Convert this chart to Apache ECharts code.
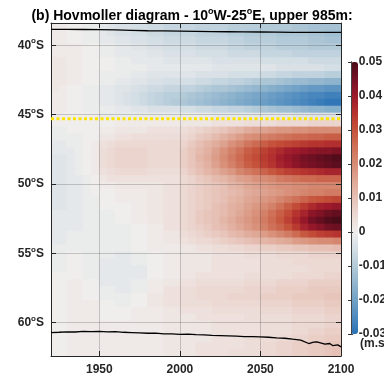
<!DOCTYPE html>
<html>
<head>
<meta charset="utf-8">
<script src="https://cdn.jsdelivr.net/npm/echarts@6/dist/echarts.min.js"></script>
<style>
  html, body { margin: 0; padding: 0; background: #fff; }
  #chart { width: 384px; height: 376px; }
</style>
</head>
<body>
<div id="chart"></div>
<script>
// 5-year cell centres
const years = [1922.5, 1927.5, 1932.5, 1937.5, 1942.5, 1947.5, 1952.5, 1957.5, 1962.5, 1967.5, 1972.5, 1977.5,
  1982.5, 1987.5, 1992.5, 1997.5, 2002.5, 2007.5, 2012.5, 2017.5, 2022.5, 2027.5, 2032.5, 2037.5,
  2042.5, 2047.5, 2052.5, 2057.5, 2062.5, 2067.5, 2072.5, 2077.5, 2082.5, 2087.5, 2092.5, 2097.5];

// latitude centres, north to south (cells span 0.5 deg)
const lats = [-38.65, -39.15, -39.65, -40.15, -40.65, -41.15, -41.65, -42.15, -42.65, -43.15, -43.65, -44.15,
  -44.65, -45.15, -45.65, -46.15, -46.65, -47.15, -47.65, -48.15, -48.65, -49.15, -49.65, -50.15,
  -50.65, -51.15, -51.65, -52.15, -52.65, -53.15, -53.65, -54.15, -54.65, -55.15, -55.65, -56.15,
  -56.65, -57.15, -57.65, -58.15, -58.65, -59.15, -59.65, -60.15, -60.65, -61.15, -61.65, -62.15];

// velocity anomaly (m/s): one row per latitude, one column per 5 years (groups of 30 years)
const anomaly = [
  [0.001, 0.001, 0.000, 0.000, -0.001, -0.001,  -0.002, -0.003, -0.004, -0.004, -0.005, -0.005,  -0.006, -0.006, -0.007, -0.007, -0.007, -0.007,  -0.008, -0.008, -0.008, -0.008, -0.009, -0.009,  -0.009, -0.009, -0.010, -0.010, -0.010, -0.010,  -0.011, -0.011, -0.012, -0.012, -0.012, -0.012],
  [0.001, 0.001, 0.000, 0.000, -0.001, -0.001,  -0.002, -0.003, -0.004, -0.004, -0.005, -0.005,  -0.006, -0.006, -0.007, -0.007, -0.007, -0.007,  -0.008, -0.008, -0.008, -0.008, -0.009, -0.009,  -0.010, -0.010, -0.010, -0.010, -0.011, -0.011,  -0.011, -0.011, -0.012, -0.012, -0.013, -0.013],
  [0.001, 0.001, 0.000, 0.000, -0.001, -0.001,  -0.002, -0.002, -0.003, -0.003, -0.004, -0.004,  -0.005, -0.005, -0.006, -0.006, -0.006, -0.006,  -0.007, -0.007, -0.007, -0.007, -0.008, -0.008,  -0.009, -0.009, -0.009, -0.009, -0.010, -0.010,  -0.010, -0.010, -0.011, -0.011, -0.012, -0.012],
  [0.001, 0.001, 0.001, 0.001, 0.000, 0.000,  -0.001, -0.001, -0.002, -0.002, -0.003, -0.003,  -0.004, -0.004, -0.005, -0.005, -0.005, -0.005,  -0.006, -0.006, -0.006, -0.006, -0.007, -0.007,  -0.008, -0.008, -0.008, -0.008, -0.009, -0.009,  -0.009, -0.009, -0.010, -0.010, -0.010, -0.010],
  [0.001, 0.001, 0.001, 0.001, 0.000, 0.000,  -0.001, -0.001, -0.002, -0.002, -0.002, -0.002,  -0.003, -0.003, -0.004, -0.004, -0.004, -0.004,  -0.005, -0.005, -0.005, -0.005, -0.006, -0.006,  -0.006, -0.006, -0.007, -0.007, -0.007, -0.007,  -0.008, -0.008, -0.008, -0.008, -0.008, -0.008],
  [0.002, 0.002, 0.001, 0.001, 0.000, 0.000,  0.000, 0.000, -0.001, -0.001, -0.002, -0.002,  -0.002, -0.002, -0.003, -0.003, -0.003, -0.003,  -0.003, -0.003, -0.004, -0.004, -0.004, -0.004,  -0.004, -0.004, -0.005, -0.005, -0.005, -0.005,  -0.005, -0.005, -0.006, -0.006, -0.006, -0.006],
  [0.002, 0.002, 0.001, 0.001, 0.000, 0.000,  0.000, 0.000, -0.001, -0.001, -0.001, -0.001,  -0.002, -0.002, -0.002, -0.002, -0.002, -0.002,  -0.002, -0.002, -0.003, -0.003, -0.003, -0.003,  -0.003, -0.003, -0.003, -0.003, -0.004, -0.004,  -0.004, -0.004, -0.004, -0.004, -0.005, -0.005],
  [0.002, 0.002, 0.001, 0.001, 0.000, 0.000,  -0.001, -0.001, -0.001, -0.001, -0.002, -0.002,  -0.003, -0.003, -0.003, -0.003, -0.003, -0.003,  -0.004, -0.004, -0.004, -0.004, -0.005, -0.005,  -0.005, -0.005, -0.006, -0.006, -0.007, -0.007,  -0.008, -0.008, -0.008, -0.008, -0.009, -0.009],
  [0.002, 0.002, 0.001, 0.001, 0.000, 0.000,  -0.001, -0.001, -0.002, -0.002, -0.003, -0.003,  -0.004, -0.004, -0.005, -0.005, -0.005, -0.005,  -0.006, -0.006, -0.007, -0.007, -0.008, -0.008,  -0.009, -0.010, -0.011, -0.011, -0.012, -0.013,  -0.014, -0.014, -0.015, -0.015, -0.016, -0.016],
  [0.002, 0.001, 0.000, 0.000, -0.001, -0.001,  -0.002, -0.002, -0.003, -0.003, -0.004, -0.005,  -0.006, -0.006, -0.007, -0.007, -0.008, -0.008,  -0.009, -0.010, -0.011, -0.011, -0.012, -0.013,  -0.014, -0.015, -0.016, -0.017, -0.018, -0.019,  -0.020, -0.021, -0.022, -0.022, -0.023, -0.023],
  [0.001, 0.001, 0.000, 0.000, -0.001, -0.001,  -0.002, -0.002, -0.003, -0.004, -0.005, -0.006,  -0.007, -0.008, -0.009, -0.009, -0.010, -0.011,  -0.012, -0.013, -0.014, -0.015, -0.016, -0.017,  -0.018, -0.019, -0.020, -0.021, -0.022, -0.023,  -0.024, -0.025, -0.026, -0.026, -0.027, -0.027],
  [0.001, 0.001, 0.000, 0.000, -0.001, -0.001,  -0.002, -0.002, -0.003, -0.004, -0.005, -0.006,  -0.007, -0.008, -0.009, -0.010, -0.011, -0.012,  -0.013, -0.014, -0.015, -0.016, -0.017, -0.018,  -0.019, -0.020, -0.021, -0.022, -0.023, -0.024,  -0.025, -0.026, -0.027, -0.028, -0.029, -0.029],
  [0.001, 0.001, 0.000, 0.000, -0.001, -0.001,  -0.001, -0.001, -0.002, -0.002, -0.003, -0.003,  -0.004, -0.004, -0.004, -0.004, -0.005, -0.005,  -0.006, -0.006, -0.007, -0.007, -0.008, -0.008,  -0.009, -0.010, -0.011, -0.012, -0.013, -0.013,  -0.014, -0.015, -0.016, -0.016, -0.017, -0.017],
  [0.000, 0.000, 0.000, 0.000, 0.000, 0.000,  -0.001, -0.001, -0.001, -0.001, -0.001, -0.001,  -0.001, -0.001, -0.001, -0.001, -0.001, -0.001,  -0.001, -0.001, -0.002, -0.002, -0.002, -0.002,  -0.002, -0.002, -0.002, -0.002, -0.002, -0.002,  -0.003, -0.003, -0.003, -0.003, -0.003, -0.003],
  [0.000, 0.000, 0.000, 0.000, 0.000, 0.000,  0.000, 0.000, 0.001, 0.001, 0.001, 0.001,  0.001, 0.001, 0.001, 0.001, 0.002, 0.002,  0.002, 0.002, 0.003, 0.003, 0.003, 0.003,  0.004, 0.004, 0.004, 0.004, 0.005, 0.005,  0.005, 0.005, 0.006, 0.006, 0.006, 0.006],
  [-0.001, -0.001, 0.000, 0.000, 0.000, 0.000,  0.001, 0.001, 0.002, 0.002, 0.002, 0.002,  0.003, 0.003, 0.003, 0.003, 0.004, 0.005,  0.006, 0.007, 0.008, 0.009, 0.011, 0.012,  0.014, 0.015, 0.016, 0.017, 0.018, 0.018,  0.019, 0.019, 0.020, 0.020, 0.020, 0.020],
  [-0.001, -0.001, -0.001, -0.001, 0.000, 0.000,  0.002, 0.002, 0.003, 0.003, 0.004, 0.004,  0.004, 0.004, 0.004, 0.004, 0.005, 0.006,  0.008, 0.009, 0.011, 0.013, 0.015, 0.017,  0.019, 0.020, 0.022, 0.023, 0.024, 0.025,  0.026, 0.026, 0.027, 0.027, 0.028, 0.028],
  [-0.002, -0.002, -0.001, -0.001, 0.000, 0.001,  0.003, 0.004, 0.005, 0.005, 0.005, 0.005,  0.005, 0.005, 0.005, 0.005, 0.006, 0.008,  0.010, 0.012, 0.014, 0.016, 0.019, 0.021,  0.024, 0.026, 0.028, 0.030, 0.031, 0.032,  0.033, 0.034, 0.035, 0.035, 0.036, 0.036],
  [-0.002, -0.002, -0.002, -0.001, 0.000, 0.001,  0.004, 0.005, 0.006, 0.006, 0.006, 0.006,  0.005, 0.005, 0.005, 0.005, 0.007, 0.009,  0.011, 0.013, 0.016, 0.019, 0.022, 0.025,  0.028, 0.030, 0.033, 0.035, 0.037, 0.039,  0.040, 0.041, 0.042, 0.043, 0.043, 0.044],
  [-0.003, -0.003, -0.002, -0.001, 0.000, 0.001,  0.004, 0.005, 0.006, 0.006, 0.006, 0.006,  0.005, 0.005, 0.005, 0.005, 0.007, 0.009,  0.012, 0.014, 0.017, 0.020, 0.023, 0.026,  0.029, 0.031, 0.034, 0.036, 0.039, 0.041,  0.043, 0.045, 0.046, 0.047, 0.048, 0.049],
  [-0.003, -0.003, -0.002, -0.001, 0.000, 0.001,  0.004, 0.005, 0.006, 0.006, 0.006, 0.006,  0.005, 0.005, 0.005, 0.005, 0.007, 0.009,  0.011, 0.013, 0.016, 0.019, 0.022, 0.025,  0.028, 0.030, 0.033, 0.035, 0.038, 0.040,  0.042, 0.044, 0.045, 0.046, 0.047, 0.048],
  [-0.003, -0.003, -0.002, -0.001, 0.000, 0.001,  0.003, 0.004, 0.005, 0.005, 0.005, 0.005,  0.004, 0.004, 0.004, 0.004, 0.006, 0.008,  0.010, 0.012, 0.014, 0.016, 0.018, 0.021,  0.023, 0.025, 0.027, 0.029, 0.031, 0.033,  0.034, 0.035, 0.036, 0.037, 0.038, 0.038],
  [-0.003, -0.003, -0.002, -0.002, -0.001, 0.000,  0.002, 0.003, 0.003, 0.003, 0.003, 0.003,  0.003, 0.003, 0.003, 0.003, 0.005, 0.006,  0.008, 0.009, 0.011, 0.012, 0.014, 0.016,  0.017, 0.019, 0.020, 0.021, 0.023, 0.024,  0.025, 0.026, 0.026, 0.027, 0.027, 0.027],
  [-0.003, -0.003, -0.002, -0.002, -0.001, 0.000,  0.001, 0.001, 0.002, 0.002, 0.002, 0.002,  0.002, 0.002, 0.003, 0.003, 0.005, 0.006,  0.007, 0.008, 0.009, 0.010, 0.012, 0.013,  0.015, 0.016, 0.017, 0.018, 0.019, 0.019,  0.020, 0.020, 0.021, 0.021, 0.021, 0.021],
  [-0.003, -0.003, -0.002, -0.002, -0.001, 0.000,  0.000, 0.000, 0.001, 0.001, 0.001, 0.001,  0.002, 0.002, 0.003, 0.003, 0.005, 0.006,  0.007, 0.008, 0.009, 0.010, 0.011, 0.012,  0.014, 0.015, 0.016, 0.017, 0.018, 0.019,  0.020, 0.021, 0.022, 0.022, 0.023, 0.023],
  [-0.003, -0.003, -0.002, -0.002, -0.001, -0.001,  0.000, 0.000, 0.001, 0.001, 0.001, 0.001,  0.002, 0.002, 0.003, 0.003, 0.005, 0.006,  0.007, 0.008, 0.009, 0.010, 0.012, 0.013,  0.015, 0.016, 0.018, 0.019, 0.021, 0.023,  0.025, 0.027, 0.029, 0.030, 0.031, 0.032],
  [-0.003, -0.003, -0.002, -0.002, -0.001, -0.001,  0.000, 0.000, 0.000, 0.000, 0.001, 0.001,  0.002, 0.002, 0.003, 0.003, 0.005, 0.006,  0.007, 0.008, 0.010, 0.011, 0.013, 0.014,  0.016, 0.018, 0.020, 0.022, 0.025, 0.028,  0.031, 0.034, 0.037, 0.039, 0.040, 0.041],
  [-0.002, -0.002, -0.002, -0.002, -0.001, -0.001,  -0.001, -0.001, 0.000, 0.000, 0.001, 0.001,  0.002, 0.002, 0.003, 0.003, 0.005, 0.006,  0.008, 0.009, 0.010, 0.011, 0.013, 0.015,  0.017, 0.019, 0.022, 0.025, 0.028, 0.031,  0.035, 0.038, 0.042, 0.044, 0.046, 0.047],
  [-0.002, -0.002, -0.002, -0.002, -0.001, -0.001,  -0.001, -0.001, 0.000, 0.000, 0.001, 0.001,  0.002, 0.002, 0.003, 0.003, 0.005, 0.006,  0.008, 0.009, 0.010, 0.012, 0.014, 0.016,  0.018, 0.020, 0.023, 0.026, 0.029, 0.033,  0.037, 0.041, 0.045, 0.047, 0.049, 0.050],
  [-0.002, -0.002, -0.002, -0.002, -0.001, -0.001,  -0.001, -0.001, -0.001, -0.001, 0.000, 0.000,  0.001, 0.001, 0.003, 0.003, 0.005, 0.006,  0.007, 0.008, 0.010, 0.011, 0.013, 0.015,  0.017, 0.019, 0.022, 0.025, 0.027, 0.030,  0.034, 0.038, 0.041, 0.043, 0.045, 0.046],
  [-0.002, -0.002, -0.001, -0.001, -0.001, -0.001,  -0.001, -0.001, -0.001, -0.001, 0.000, 0.000,  0.001, 0.001, 0.002, 0.002, 0.004, 0.005,  0.006, 0.007, 0.008, 0.009, 0.011, 0.012,  0.014, 0.015, 0.017, 0.019, 0.021, 0.023,  0.026, 0.029, 0.031, 0.033, 0.034, 0.035],
  [-0.002, -0.002, -0.001, -0.001, -0.001, -0.001,  -0.001, -0.001, -0.001, -0.001, 0.000, 0.000,  0.001, 0.001, 0.002, 0.002, 0.003, 0.004,  0.005, 0.005, 0.006, 0.007, 0.008, 0.009,  0.010, 0.011, 0.012, 0.013, 0.014, 0.015,  0.017, 0.018, 0.019, 0.020, 0.020, 0.021],
  [-0.001, -0.001, -0.001, -0.001, -0.001, -0.001,  -0.001, -0.001, -0.001, -0.001, 0.000, 0.000,  0.001, 0.001, 0.001, 0.001, 0.002, 0.002,  0.003, 0.003, 0.004, 0.004, 0.005, 0.005,  0.006, 0.006, 0.007, 0.007, 0.008, 0.008,  0.009, 0.009, 0.010, 0.010, 0.010, 0.011],
  [-0.001, -0.001, 0.000, 0.000, -0.001, -0.001,  -0.001, -0.001, -0.002, -0.002, -0.001, -0.001,  0.000, 0.000, 0.001, 0.001, 0.002, 0.002,  0.002, 0.002, 0.003, 0.003, 0.003, 0.003,  0.004, 0.004, 0.004, 0.004, 0.005, 0.005,  0.005, 0.005, 0.006, 0.006, 0.006, 0.006],
  [-0.001, -0.001, 0.000, 0.000, -0.001, -0.001,  -0.002, -0.002, -0.002, -0.002, -0.001, -0.001,  0.000, 0.000, 0.001, 0.001, 0.002, 0.002,  0.002, 0.002, 0.003, 0.003, 0.003, 0.003,  0.003, 0.003, 0.004, 0.004, 0.004, 0.004,  0.005, 0.005, 0.005, 0.005, 0.005, 0.005],
  [-0.001, -0.001, 0.000, 0.000, -0.001, -0.001,  -0.002, -0.002, -0.002, -0.002, -0.002, -0.002,  0.000, 0.000, 0.001, 0.001, 0.002, 0.002,  0.002, 0.002, 0.003, 0.003, 0.003, 0.003,  0.003, 0.003, 0.004, 0.004, 0.004, 0.004,  0.004, 0.004, 0.005, 0.005, 0.005, 0.005],
  [0.000, 0.000, 0.000, 0.000, -0.001, -0.001,  -0.002, -0.002, -0.002, -0.002, -0.002, -0.002,  0.000, 0.000, 0.001, 0.001, 0.002, 0.002,  0.003, 0.003, 0.003, 0.003, 0.003, 0.003,  0.004, 0.004, 0.004, 0.004, 0.004, 0.004,  0.005, 0.005, 0.005, 0.005, 0.006, 0.006],
  [0.000, 0.000, 0.001, 0.001, 0.000, 0.000,  -0.002, -0.002, -0.002, -0.002, -0.001, -0.001,  0.001, 0.001, 0.002, 0.002, 0.003, 0.003,  0.004, 0.004, 0.004, 0.004, 0.004, 0.004,  0.005, 0.005, 0.005, 0.005, 0.006, 0.006,  0.006, 0.006, 0.007, 0.007, 0.007, 0.007],
  [0.000, 0.000, 0.001, 0.001, 0.000, 0.000,  -0.001, -0.001, -0.002, -0.002, -0.001, -0.001,  0.001, 0.001, 0.003, 0.003, 0.004, 0.004,  0.005, 0.005, 0.005, 0.005, 0.005, 0.005,  0.006, 0.006, 0.006, 0.006, 0.007, 0.007,  0.007, 0.007, 0.008, 0.008, 0.008, 0.008],
  [0.000, 0.000, 0.001, 0.001, 0.000, 0.000,  -0.001, -0.001, -0.001, -0.001, 0.000, 0.000,  0.002, 0.002, 0.003, 0.003, 0.004, 0.004,  0.005, 0.005, 0.005, 0.005, 0.006, 0.006,  0.006, 0.006, 0.007, 0.007, 0.007, 0.007,  0.008, 0.008, 0.008, 0.008, 0.009, 0.009],
  [0.000, 0.000, 0.001, 0.001, 0.001, 0.001,  0.000, 0.000, -0.001, -0.001, 0.000, 0.000,  0.002, 0.002, 0.003, 0.003, 0.004, 0.004,  0.004, 0.004, 0.005, 0.005, 0.005, 0.005,  0.005, 0.005, 0.006, 0.006, 0.006, 0.006,  0.007, 0.007, 0.007, 0.007, 0.008, 0.008],
  [0.000, 0.000, 0.001, 0.001, 0.001, 0.001,  0.000, 0.000, 0.000, 0.000, 0.001, 0.001,  0.001, 0.001, 0.002, 0.002, 0.003, 0.003,  0.003, 0.003, 0.004, 0.004, 0.004, 0.004,  0.004, 0.004, 0.005, 0.005, 0.005, 0.005,  0.006, 0.006, 0.006, 0.006, 0.007, 0.007],
  [0.000, 0.000, 0.001, 0.001, 0.001, 0.001,  0.000, 0.000, 0.000, 0.000, 0.001, 0.001,  0.001, 0.001, 0.002, 0.002, 0.002, 0.002,  0.003, 0.003, 0.003, 0.003, 0.003, 0.003,  0.004, 0.004, 0.004, 0.004, 0.004, 0.004,  0.005, 0.005, 0.005, 0.005, 0.006, 0.006],
  [0.000, 0.000, 0.001, 0.001, 0.001, 0.001,  0.001, 0.001, 0.001, 0.001, 0.001, 0.001,  0.001, 0.001, 0.002, 0.002, 0.002, 0.002,  0.002, 0.002, 0.003, 0.003, 0.003, 0.003,  0.003, 0.003, 0.004, 0.004, 0.004, 0.004,  0.005, 0.005, 0.005, 0.005, 0.006, 0.006],
  [0.000, 0.000, 0.001, 0.001, 0.001, 0.001,  0.001, 0.001, 0.001, 0.001, 0.001, 0.001,  0.001, 0.001, 0.002, 0.002, 0.002, 0.002,  0.002, 0.002, 0.003, 0.003, 0.003, 0.003,  0.003, 0.003, 0.004, 0.004, 0.004, 0.004,  0.005, 0.005, 0.006, 0.006, 0.007, 0.007],
  [0.000, 0.000, 0.001, 0.001, 0.001, 0.001,  0.001, 0.001, 0.001, 0.001, 0.001, 0.001,  0.001, 0.001, 0.002, 0.002, 0.002, 0.002,  0.002, 0.002, 0.003, 0.003, 0.003, 0.003,  0.004, 0.004, 0.004, 0.004, 0.005, 0.005,  0.006, 0.006, 0.007, 0.007, 0.008, 0.008],
  [0.000, 0.000, 0.001, 0.001, 0.001, 0.001,  0.001, 0.001, 0.001, 0.001, 0.001, 0.001,  0.001, 0.001, 0.002, 0.002, 0.002, 0.002,  0.003, 0.003, 0.003, 0.003, 0.003, 0.003,  0.004, 0.004, 0.005, 0.005, 0.006, 0.006,  0.007, 0.007, 0.008, 0.008, 0.009, 0.009],
  [0.000, 0.000, 0.001, 0.001, 0.001, 0.001,  0.001, 0.001, 0.001, 0.001, 0.001, 0.001,  0.001, 0.001, 0.002, 0.002, 0.002, 0.002,  0.003, 0.003, 0.003, 0.003, 0.004, 0.004,  0.004, 0.004, 0.005, 0.005, 0.006, 0.006,  0.007, 0.007, 0.008, 0.008, 0.009, 0.010]
];

// front boundaries (black) and the reference latitude (yellow)
const northFront = [[1920, -38.86], [1930, -38.86], [1940, -38.87], [1950, -38.88], [1960, -38.90], [1970, -38.93],
  [1980, -38.96], [1990, -38.97], [2000, -38.98], [2010, -39.00], [2020, -39.02], [2030, -39.03], [2040, -39.04],
  [2050, -39.05], [2060, -39.06], [2070, -39.07], [2080, -39.07], [2090, -39.07], [2100, -39.07]];
const southFront = [[1920, -60.71], [1925, -60.69], [1930, -60.66], [1935, -60.67], [1940, -60.63], [1945, -60.65],
  [1950, -60.62], [1955, -60.66], [1960, -60.64], [1965, -60.69], [1970, -60.71], [1975, -60.73], [1980, -60.76],
  [1985, -60.75], [1990, -60.81], [1995, -60.80], [2000, -60.84], [2005, -60.82], [2010, -60.86], [2015, -60.88],
  [2020, -60.91], [2025, -60.93], [2030, -60.95], [2035, -60.97], [2040, -61.00], [2045, -61.00], [2050, -61.02],
  [2055, -61.05], [2060, -61.09], [2065, -61.12], [2070, -61.19], [2075, -61.25], [2080, -61.50], [2083, -61.40],
  [2085, -61.39], [2090, -61.55], [2093, -61.50], [2095, -61.66], [2098, -61.60], [2100, -61.74]];
const refLine = [[1920, -45.3], [2100, -45.3]];

const yearTicks = [1950, 2000, 2050, 2100];
const latTicks = [-60, -55, -50, -45, -40];

// colour scale every 0.005 from -0.03 to 0.05
const cmap = ['#2a72b6', '#4f8bbf', '#72a2c6', '#94b7cf', '#b3cad8', '#d3dee5', '#f0eeed', '#ecd9d3', '#e6c0b5',
  '#dfa795', '#d78c75', '#cf7058', '#c5523a', '#b6342f', '#9c1a2b', '#751124', '#4a0c18'];

const FONT = 'Liberation Sans, Arial, sans-serif';
const INK = '#262626';
const HALF_STEP = 2.5;
const HALF_CELL_LAT = 0.25;

const cells = [];
lats.forEach((lat, i) => {
  years.forEach((yr, j) => {
    cells.push([yr, lat, anomaly[i][j]]);
  });
});

function renderCell(params, api) {
  const x = api.value(0);
  const y = api.value(1);
  const p0 = api.coord([x - HALF_STEP, y + HALF_CELL_LAT]);
  const p1 = api.coord([x + HALF_STEP, y - HALF_CELL_LAT]);
  return {
    type: 'rect',
    shape: { x: p0[0] - 0.5, y: p0[1] - 0.5, width: p1[0] - p0[0] + 1, height: p1[1] - p0[1] + 1 },
    style: { fill: api.visual('color') }
  };
}

// raised small "o" / exponent
const supStyle = { fontSize: 8, fontWeight: 'bold', fontFamily: FONT, color: INK, padding: [0, 0, 8, 0] };

const chart = echarts.init(document.getElementById('chart'));

chart.setOption({
  animation: false,
  title: {
    text: '(b) Hovmoller diagram - 10{sup|o}W-25{sup|o}E, upper 985m:',
    left: 'center',
    top: 2,
    textStyle: {
      fontSize: 14,
      fontWeight: 'bold',
      fontFamily: FONT,
      color: '#000',
      rich: {
        sup: { fontSize: 9, fontWeight: 'bold', fontFamily: FONT, color: '#000', padding: [0, 0, 9, 0] }
      }
    }
  },
  grid: [
    { left: 51, top: 23, width: 290, height: 335 },
    { left: 351, top: 62, width: 7, height: 272 }
  ],
  xAxis: [
    {
      type: 'value', gridIndex: 0, min: 1920, max: 2100, position: 'bottom', z: 1,
      axisLine: { lineStyle: { color: INK, width: 1 } },
      axisTick: { inside: true, length: 5, customValues: yearTicks, lineStyle: { color: INK } },
      axisLabel: {
        customValues: yearTicks, formatter: (v) => String(v),
        fontSize: 12, fontWeight: 'bold', fontFamily: FONT, color: INK, margin: 8
      },
      splitLine: { show: true, lineStyle: { color: 'rgba(60,60,60,0.25)', width: 1 } }
    },
    {
      type: 'value', gridIndex: 0, min: 1920, max: 2100, position: 'top', z: 1,
      axisLine: { lineStyle: { color: INK, width: 1 } },
      axisTick: { inside: true, length: 5, customValues: yearTicks, lineStyle: { color: INK } },
      axisLabel: { show: false },
      splitLine: { show: false }
    },
    {
      type: 'value', gridIndex: 1, min: 0, max: 1, position: 'bottom', z: 6,
      axisLine: { lineStyle: { color: '#444', width: 1 } },
      axisTick: { show: false }, axisLabel: { show: false }, splitLine: { show: false }
    },
    {
      type: 'value', gridIndex: 1, min: 0, max: 1, position: 'top', z: 6,
      axisLine: { lineStyle: { color: '#444', width: 1 } },
      axisTick: { show: false }, axisLabel: { show: false }, splitLine: { show: false }
    }
  ],
  yAxis: [
    {
      type: 'value', gridIndex: 0, min: -62.4, max: -38.4, position: 'left', z: 1,
      axisLine: { lineStyle: { color: INK, width: 1 } },
      axisTick: { inside: true, length: 5, customValues: latTicks, lineStyle: { color: INK } },
      axisLabel: {
        customValues: latTicks,
        formatter: (v) => Math.round(-v) + '{sup|o}S',
        fontSize: 12, fontWeight: 'bold', fontFamily: FONT, color: INK, margin: 7,
        rich: { sup: supStyle }
      },
      splitLine: { show: true, lineStyle: { color: 'rgba(60,60,60,0.25)', width: 1 } }
    },
    {
      type: 'value', gridIndex: 0, min: -62.4, max: -38.4, position: 'right', z: 1,
      axisLine: { lineStyle: { color: INK, width: 1 } },
      axisTick: { inside: true, length: 5, customValues: latTicks, lineStyle: { color: INK } },
      axisLabel: { show: false },
      splitLine: { show: false }
    },
    {
      type: 'value', gridIndex: 1, min: 0, max: 1, position: 'left', z: 6,
      axisLine: { lineStyle: { color: '#444', width: 1 } },
      axisTick: { show: false }, axisLabel: { show: false }, splitLine: { show: false }
    },
    {
      type: 'value', gridIndex: 1, min: -0.03, max: 0.05, interval: 0.01, position: 'right', z: 6,
      axisLine: { lineStyle: { color: '#444', width: 1 } },
      axisTick: { inside: true, length: 3, lineStyle: { color: '#333' } },
      axisLabel: {
        formatter: (v) => (Math.abs(v) < 1e-9 ? '0' : v.toFixed(2)),
        fontSize: 12, fontWeight: 'bold', fontFamily: FONT, color: INK, margin: 6
      },
      splitLine: { show: false }
    }
  ],
  visualMap: {
    type: 'continuous',
    seriesIndex: 0,
    dimension: 2,
    min: -0.03,
    max: 0.05,
    inRange: { color: cmap },
    orient: 'vertical',
    left: 351,
    top: 62,
    itemWidth: 7,
    itemHeight: 272,
    padding: 0,
    calculable: false,
    hoverLink: false,
    z: 4
  },
  graphic: [
    {
      type: 'text',
      left: 360,
      top: 336,
      style: {
        text: '(m.s{sup|-1})',
        font: 'bold 12px ' + FONT,
        fill: INK,
        rich: { sup: supStyle }
      }
    }
  ],
  series: [
    {
      type: 'custom',
      xAxisIndex: 0,
      yAxisIndex: 0,
      renderItem: renderCell,
      data: cells,
      encode: { x: 0, y: 1 },
      clip: true,
      z: 0,
      silent: true
    },
    {
      type: 'line',
      xAxisIndex: 0,
      yAxisIndex: 0,
      data: refLine,
      showSymbol: false,
      lineStyle: { color: '#ffe400', width: 3, type: [3, 2.5] },
      z: 3,
      silent: true
    },
    {
      type: 'line',
      xAxisIndex: 0,
      yAxisIndex: 0,
      data: northFront,
      showSymbol: false,
      lineStyle: { color: '#000', width: 1.3 },
      z: 3,
      silent: true
    },
    {
      type: 'line',
      xAxisIndex: 0,
      yAxisIndex: 0,
      data: southFront,
      showSymbol: false,
      lineStyle: { color: '#000', width: 1.3 },
      z: 3,
      silent: true
    }
  ]
});
</script>
</body>
</html>
